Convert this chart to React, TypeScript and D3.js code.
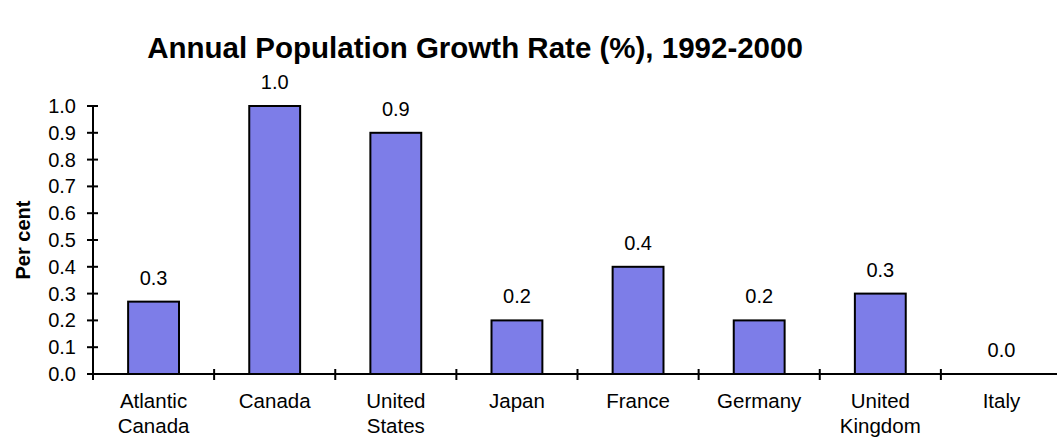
import * as d3 from 'd3';

const categories = [
  ['Atlantic', 'Canada'],
  ['Canada'],
  ['United', 'States'],
  ['Japan'],
  ['France'],
  ['Germany'],
  ['United', 'Kingdom'],
  ['Italy'],
];
const growthRates = [0.27, 1.0, 0.9, 0.2, 0.4, 0.2, 0.3, 0.0];
const valueLabels = ['0.3', '1.0', '0.9', '0.2', '0.4', '0.2', '0.3', '0.0'];
const yTicks = [0, 0.1, 0.2, 0.3, 0.4, 0.5, 0.6, 0.7, 0.8, 0.9, 1.0];

const width = 1057;
const height = 440;
const font = '"Liberation Sans", Arial, Helvetica, sans-serif';

export default function App() {
  const keys = categories.map((c) => c.join(' '));

  const x = d3.scaleBand<string>()
    .domain(keys)
    .range([93, 1062])
    .paddingInner(0.58)
    .paddingOuter(0.29);

  const y = d3.scaleLinear()
    .domain([0, 1])
    .range([374, 106]);

  const step = x.step();
  const bw = x.bandwidth();
  // slot boundaries for the category tick marks
  const boundaries = keys.map((k) => x(k)! - (step - bw) / 2);

  return (
    <svg
      width={width}
      height={height}
      style={{ position: 'absolute', left: 0, top: 0, background: '#fff' }}
      fontFamily={font}
    >
      <text x={475} y={58} textAnchor="middle" fontSize={29.5} fontWeight="bold" fill="#000">
        Annual Population Growth Rate (%), 1992-2000
      </text>

      <text
        transform={`translate(30,${y(0.5)}) rotate(-90)`}
        textAnchor="middle"
        fontSize={20}
        fontWeight="bold"
        fill="#000"
      >
        Per cent
      </text>

      {/* bars */}
      {growthRates.map((v, i) => (
        <g key={keys[i]}>
          {v > 0 && (
            <rect
              x={x(keys[i])}
              y={y(v)}
              width={bw}
              height={y(0) - y(v)}
              fill="#7d7de8"
              stroke="#000"
              strokeWidth={2}
            />
          )}
          <text
            x={x(keys[i])! + bw / 2}
            y={y(v) - 17}
            textAnchor="middle"
            fontSize={20}
            fill="#000"
          >
            {valueLabels[i]}
          </text>
        </g>
      ))}

      {/* y axis */}
      <line x1={93} x2={93} y1={y(1)} y2={y(0)} stroke="#000" strokeWidth={2} />
      {yTicks.map((t) => (
        <g key={t}>
          <line x1={87} x2={98} y1={y(t)} y2={y(t)} stroke="#000" strokeWidth={2} />
          <text x={76} y={y(t) + 7} textAnchor="end" fontSize={20} fill="#000">
            {d3.format('.1f')(t)}
          </text>
        </g>
      ))}

      {/* x axis */}
      <line x1={93} x2={1062} y1={y(0)} y2={y(0)} stroke="#000" strokeWidth={2} />
      {boundaries.map((b, i) => (
        <line key={i} x1={b} x2={b} y1={y(0) - 5} y2={y(0) + 6} stroke="#000" strokeWidth={2} />
      ))}
      {categories.map((lines, i) => (
        <text
          key={keys[i]}
          x={x(keys[i])! + bw / 2}
          y={408}
          textAnchor="middle"
          fontSize={20.5}
          fill="#000"
        >
          {lines.map((l, j) => (
            <tspan key={j} x={x(keys[i])! + bw / 2} dy={j === 0 ? 0 : 25}>
              {l}
            </tspan>
          ))}
        </text>
      ))}
    </svg>
  );
}
